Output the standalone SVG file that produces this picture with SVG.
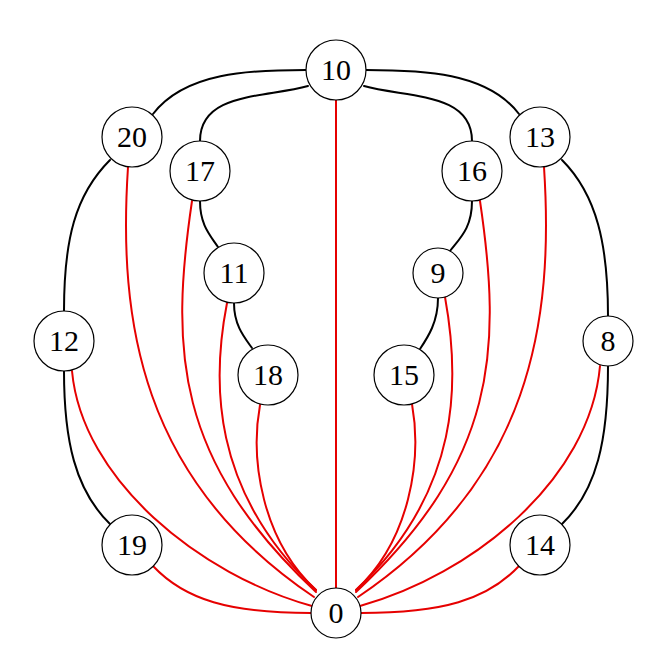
<svg xmlns="http://www.w3.org/2000/svg" width="659" height="667" viewBox="0 0 659 667">
<style>
.e{fill:none;stroke-width:2;stroke-linecap:round}
.b{stroke:#000}
.r{stroke:#e60000}
.n circle{fill:#fff;stroke:#000;stroke-width:1.2}
.n text{font-family:"Liberation Serif","Times New Roman",serif;font-size:30px;text-anchor:middle;fill:#000}
</style>
<rect width="659" height="667" fill="#fff"/>
<g id="edges">
<path class="e b" d="M306,70 C250,70 185,72 153,114"/>
<path class="e b" d="M308,86 C265,98 200,92 200,141"/>
<path class="e b" d="M366,70 C422,70 487,72 519,114"/>
<path class="e b" d="M364,86 C407,98 472,92 472,141"/>
<path class="e b" d="M110,160 C75,195 64,240 64,311"/>
<path class="e b" d="M562,160 C597,195 608,245 608,316"/>
<path class="e b" d="M200,201 C200,225 210,235 218,247"/>
<path class="e b" d="M234,303 C234,325 244,337 252,348"/>
<path class="e b" d="M472,201 C472,228 460,238 450,251"/>
<path class="e b" d="M438,298 C438,322 428,337 420,349"/>
<path class="e b" d="M64,371 C64,440 75,490 110,524"/>
<path class="e b" d="M608,366 C608,440 597,490 562,524"/>
<path class="e r" d="M336,100 L336,588"/>
<path class="e r" d="M153,566 C185,600 230,613 311,613"/>
<path class="e r" d="M72,371 C82,480 200,575 312,606"/>
<path class="e r" d="M128,167 C118,320 140,480 314,597"/>
<path class="e r" d="M192,201 C170,350 175,460 316,592"/>
<path class="e r" d="M227,303 C212,380 210,490 316,590"/>
<path class="e r" d="M260,405 C250,460 262,540 316,590"/>
<path class="e r" d="M519,566 C487,600 442,613 361,613"/>
<path class="e r" d="M600,366 C590,480 472,575 360,606"/>
<path class="e r" d="M544,167 C554,320 532,480 358,597"/>
<path class="e r" d="M480,201 C502,350 497,460 356,592"/>
<path class="e r" d="M445,297 C460,380 462,490 356,590"/>
<path class="e r" d="M412,404 C422,460 410,540 356,590"/>
</g>
<g id="n10" class="n"><circle cx="336" cy="70" r="30"/><text x="336" y="80">10</text></g>
<g id="n20" class="n"><circle cx="132" cy="137" r="30"/><text x="132" y="147">20</text></g>
<g id="n13" class="n"><circle cx="540" cy="137" r="30"/><text x="540" y="147">13</text></g>
<g id="n17" class="n"><circle cx="200" cy="171" r="30"/><text x="200" y="181">17</text></g>
<g id="n16" class="n"><circle cx="472" cy="171" r="30"/><text x="472" y="181">16</text></g>
<g id="n11" class="n"><circle cx="234" cy="273" r="30"/><text x="234" y="283">11</text></g>
<g id="n9" class="n"><circle cx="438" cy="273" r="25"/><text x="438" y="283">9</text></g>
<g id="n12" class="n"><circle cx="64" cy="341" r="30"/><text x="64" y="351">12</text></g>
<g id="n8" class="n"><circle cx="608" cy="341" r="25"/><text x="608" y="351">8</text></g>
<g id="n18" class="n"><circle cx="268" cy="375" r="30"/><text x="268" y="385">18</text></g>
<g id="n15" class="n"><circle cx="404" cy="375" r="30"/><text x="404" y="385">15</text></g>
<g id="n19" class="n"><circle cx="132" cy="545" r="30"/><text x="132" y="555">19</text></g>
<g id="n14" class="n"><circle cx="540" cy="545" r="30"/><text x="540" y="555">14</text></g>
<g id="n0" class="n"><circle cx="336" cy="613" r="25"/><text x="336" y="623">0</text></g>
</svg>
